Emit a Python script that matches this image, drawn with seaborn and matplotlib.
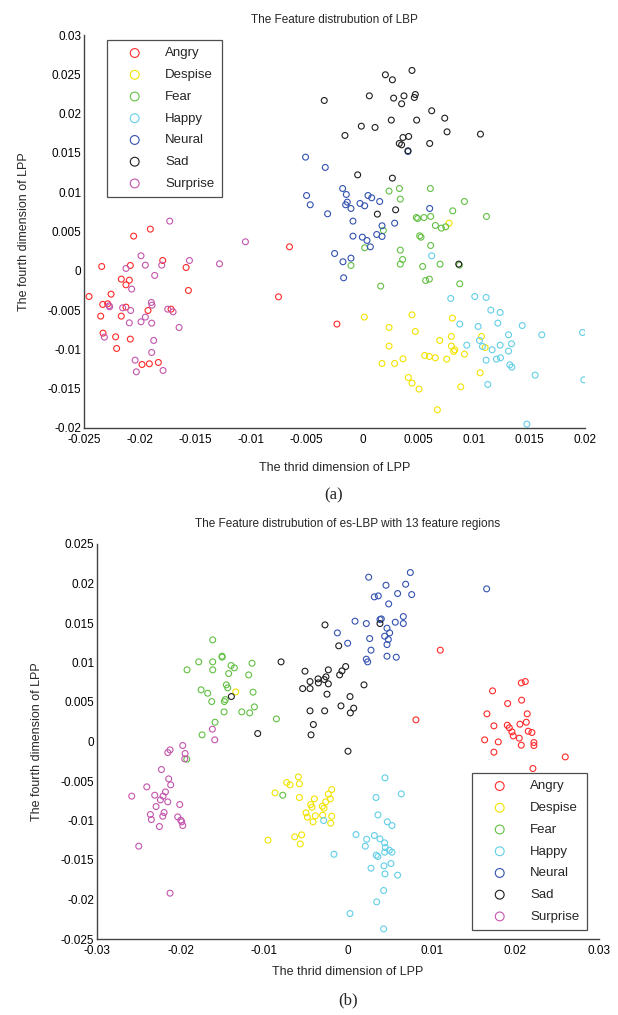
import matplotlib
matplotlib.use("Agg")
import matplotlib.pyplot as plt
import numpy as np
import pandas as pd
import seaborn as sns

sns.set_theme(style="white")
plt.rcParams.update(
    {
        "font.family": ["Liberation Sans", "DejaVu Sans"],
        "font.size": 8.5,
        "axes.unicode_minus": False,
    }
)

emotions = ["Angry", "Despise", "Fear", "Happy", "Neural", "Sad", "Surprise"]
colors = ["#ff2a2a", "#f2e400", "#62c043", "#62cfe6", "#3352b0", "#1e1e1e", "#c455ac"]

# ---- (a) LBP ----
lbp_angry_x = [-0.02455, -0.0235, -0.02332, -0.02329, -0.02341, -0.02287, -0.02257, -0.02216, -0.02207, -0.02165,
               -0.02165, -0.02123, -0.02123, -0.02093, -0.02084, -0.02084, -0.02054, -0.01979, -0.01913, -0.01904,
               -0.01925, -0.01832, -0.01793, -0.01718, -0.01583, -0.01562, -0.00654, -0.00753, -0.00228]
lbp_angry_y = [-0.00327, -0.00577, -0.00428, -0.00793, 0.00055, -0.0042, -0.00297, -0.0084, -0.00988, -0.00106,
               -0.00577, -0.00178, -0.00462, -0.00119, 0.00068, -0.00869, 0.00441, -0.01192, -0.01183, 0.0053,
               -0.00505, -0.01166, 0.00131, -0.00488, 0.00042, -0.0025, 0.00305, -0.00331, -0.00678]

lbp_despise_x = [0.00779, 0.00018, 0.00446, 0.0024, 0.00476, 0.00809, 0.0024, 0.00695, 0.008, 0.008, 0.00821,
                 0.0083, 0.00917, 0.0107, 0.01103, 0.0056, 0.00602, 0.00656, 0.00758, 0.00177, 0.0029, 0.00365,
                 0.00413, 0.00446, 0.00509, 0.01058, 0.00884, 0.00674]
lbp_despise_y = [0.00606, -0.00589, -0.0056, -0.00721, -0.00772, -0.00602, -0.00958, -0.00886, -0.00835, -0.00958,
                 -0.01026, -0.01005, -0.0106, -0.00835, -0.00976, -0.01077, -0.0109, -0.01107, -0.01124, -0.01179,
                 -0.01179, -0.0112, -0.01357, -0.01429, -0.01505, -0.01298, -0.01476, -0.01768]

lbp_fear_x = [0.0024, 0.00333, 0.00611, 0.00341, 0.00917, 0.00812, 0.01115, 0.00485, 0.00497, 0.00554, 0.00614,
              0.00656, 0.0071, 0.00749, 0.00189, 0.00021, 0.00515, 0.00527, 0.00341, 0.00362, 0.00341, 0.00614,
              0.00698, 0.00542, -0.00102, 0.00569, 0.00602, 0.00875, 0.00872, 0.00165]
lbp_fear_y = [0.01014, 0.01047, 0.01047, 0.00912, 0.00882, 0.00763, 0.00691, 0.00678, 0.00666, 0.00678, 0.00691,
              0.00577, 0.00543, 0.0056, 0.00513, 0.00293, 0.00445, 0.00428, 0.00263, 0.00144, 0.00085, 0.00322,
              0.00085, 0.00055, 0.00068, -0.00123, -0.00106, -0.00165, 0.00072, -0.00195]

lbp_happy_x = [0.00623, 0.00794, 0.0101, 0.01112, 0.01154, 0.01238, 0.00875, 0.0104, 0.01217, 0.01436, 0.01313,
               0.01612, 0.01978, 0.01052, 0.00938, 0.01079, 0.01166, 0.01238, 0.0134, 0.01313, 0.01112, 0.01205,
               0.01241, 0.01325, 0.01343, 0.01552, 0.0199, 0.01127, 0.01478]
lbp_happy_y = [0.00191, -0.00352, -0.00327, -0.00339, -0.005, -0.0053, -0.00678, -0.00708, -0.00666, -0.00696,
               -0.00814, -0.00814, -0.00785, -0.00886, -0.00946, -0.00963, -0.01005, -0.00946, -0.00929, -0.01022,
               -0.01137, -0.01124, -0.01107, -0.01196, -0.01226, -0.01327, -0.01387, -0.01446, -0.01951]

lbp_neural_x = [-0.0051, -0.00333, 0.0041, -0.00177, -0.00144, -0.00501, -0.00468, -0.00135, -0.0015, -0.00102,
                0.00051, 0.00084, -0.00021, 0.00021, 0.00156, -0.00312, -0.00084, 0.00177, 0.0029, 0.00605,
                0.00129, 0.00177, 0.0, -0.00084, 0.00042, 0.00072, -0.00249, -0.00174, -0.00102, -0.00168]
lbp_neural_y = [0.01446, 0.01315, 0.01518, 0.01047, 0.00971, 0.00958, 0.0084, 0.00874, 0.0084, 0.00793,
                0.00958, 0.00929, 0.00857, 0.00827, 0.00882, 0.00725, 0.00632, 0.00573, 0.00606, 0.00793,
                0.00462, 0.00437, 0.00428, 0.00441, 0.00386, 0.00305, 0.0022, 0.00115, 0.00161, -0.00089]

lbp_sad_x = [0.00446, 0.00207, 0.0027, -0.00342, 0.00063, 0.00281, 0.00374, 0.00476, 0.00467, 0.00353, 0.00623,
             0.0074, 0.00761, 0.0026, 0.00488, -0.00009, 0.00114, -0.00156, 0.00365, 0.00416, 0.00332, 0.00353,
             0.00605, 0.0041, -0.00042, 0.0027, 0.00135, 0.00299, 0.00866, 0.01061]
lbp_sad_y = [0.02549, 0.02494, 0.0243, 0.02167, 0.02226, 0.02197, 0.02226, 0.02243, 0.02205, 0.02125, 0.02036,
             0.01942, 0.01768, 0.01917, 0.01917, 0.0184, 0.01824, 0.01722, 0.01696, 0.01709, 0.0162, 0.01603,
             0.0162, 0.01527, 0.01221, 0.01179, 0.00721, 0.00776, 0.00085, 0.01739]

lbp_surprise_x = [-0.0173, -0.0105, -0.01283, -0.01553, -0.01802, -0.01949, -0.01988, -0.02123, -0.01865, -0.02072,
                  -0.02275, -0.0227, -0.02153, -0.02081, -0.01895, -0.01889, -0.01748, -0.017, -0.01949, -0.01988,
                  -0.01892, -0.02093, -0.01646, -0.02317, -0.01874, -0.01892, -0.02041, -0.0203, -0.0179]
lbp_surprise_y = [0.00632, 0.00369, 0.00089, 0.00131, 0.00072, 0.00072, 0.00191, 0.0003, -0.00059, -0.00233,
                  -0.00445, -0.00458, -0.00471, -0.00505, -0.00403, -0.00437, -0.00488, -0.00522, -0.00589, -0.00649,
                  -0.00666, -0.00662, -0.00721, -0.00844, -0.00886, -0.01039, -0.01137, -0.01285, -0.01268]

# ---- (b) es-LBP with 13 feature regions ----
es_angry_x = [0.00812, 0.01103, 0.02119, 0.02071, 0.01728, 0.02075, 0.01908, 0.01661, 0.02142, 0.01744, 0.01904,
              0.01928, 0.02055, 0.02131, 0.01959, 0.02154, 0.02198, 0.01975, 0.02047, 0.01633, 0.01796, 0.02071,
              0.02222, 0.02222, 0.01744, 0.02597, 0.0221]
es_angry_y = [0.00274, 0.01156, 0.00759, 0.00742, 0.00641, 0.00523, 0.00481, 0.0035, 0.0035, 0.00198, 0.00206,
              0.00173, 0.00219, 0.00244, 0.00122, 0.0013, 0.00114, 0.00071, 0.00042, 0.00021, -0.00005, -0.00047,
              -0.00013, -0.00051, -0.00135, -0.00195, -0.00342]

es_despise_x = [-0.01342, -0.00872, -0.00733, -0.00693, -0.00593, -0.00581, -0.00581, -0.00502, -0.00486, -0.00956,
                -0.00637, -0.00554, -0.0057, -0.00402, -0.00235, -0.00195, -0.00211, -0.00267, -0.00446, -0.0043,
                -0.00307, -0.00287, -0.0039, -0.00303, -0.00195, -0.00418, -0.00207]
es_despise_y = [0.00628, -0.0065, -0.00519, -0.00549, -0.00448, -0.00536, -0.00709, -0.00903, -0.00958, -0.01249,
                -0.01207, -0.01182, -0.01296, -0.00726, -0.00667, -0.00608, -0.00726, -0.00764, -0.00798, -0.00832,
                -0.00819, -0.00844, -0.00941, -0.00933, -0.00946, -0.01017, -0.01034]

es_fear_x = [-0.01617, -0.01505, -0.01505, -0.01784, -0.01617, -0.01924, -0.01617, -0.01398, -0.01358, -0.01147,
             -0.01426, -0.01187, -0.01454, -0.01438, -0.01756, -0.01677, -0.01135, -0.01629, -0.01466, -0.01478,
             -0.01119, -0.01481, -0.0127, -0.01175, -0.00856, -0.01589, -0.01744, -0.01927, -0.0078]
es_fear_y = [0.01286, 0.0108, 0.01068, 0.01008, 0.01008, 0.00907, 0.00907, 0.00962, 0.00932, 0.00991,
             0.0086, 0.00843, 0.00717, 0.00679, 0.00654, 0.00611, 0.00624, 0.00506, 0.00531, 0.00506,
             0.00438, 0.00375, 0.00375, 0.00362, 0.00286, 0.00244, 0.00084, -0.00224, -0.0068]

es_happy_x = [0.00442, 0.00637, 0.00335, 0.00358, 0.0047, 0.00526, 0.00096, 0.00315, 0.00382, 0.00223, 0.00207,
              0.00438, 0.00446, 0.00494, 0.00526, 0.00438, -0.00167, 0.00338, 0.00358, 0.0043, 0.00514, 0.00275,
              0.00442, 0.00593, 0.00426, 0.00343, 0.00024, 0.00426, -0.00291]
es_happy_y = [-0.0046, -0.00663, -0.00709, -0.00929, -0.01017, -0.01064, -0.01178, -0.0119, -0.01233, -0.01237,
              -0.01325, -0.01283, -0.01342, -0.01376, -0.01401, -0.01401, -0.01427, -0.01439, -0.01456, -0.01574,
              -0.01545, -0.01604, -0.01676, -0.01692, -0.01886, -0.0203, -0.02178, -0.02372, -0.01]

es_neural_x = [0.00247, 0.00745, 0.00454, 0.00689, 0.00593, 0.00761, 0.00315, 0.00362, 0.00486, 0.00084, 0.00219,
               0.00398, 0.00382, 0.00565, 0.00661, 0.00661, -0.00127, 0.00466, 0.00498, 0.00438, 0.00482, -0.00004,
               0.00259, 0.00466, 0.00275, 0.00466, 0.00577, 0.00219, 0.00235, 0.01657]
es_neural_y = [0.0208, 0.02139, 0.01978, 0.01991, 0.01873, 0.0186, 0.01831, 0.01843, 0.01742, 0.01523, 0.01493,
               0.01552, 0.01544, 0.0151, 0.01582, 0.01493, 0.01375, 0.01434, 0.01375, 0.01333, 0.01291, 0.01244,
               0.01303, 0.01227, 0.01156, 0.0108, 0.01067, 0.01042, 0.01008, 0.01932]

es_sad_x = [-0.00275, 0.00382, -0.00111, -0.008, -0.00514, -0.00235, -0.00028, -0.00072, -0.001, -0.00454, -0.00358,
            -0.00354, -0.00263, -0.00283, -0.00235, -0.00542, -0.00454, 0.00191, -0.00251, 0.00024, -0.00084,
            -0.00454, -0.00279, 0.00068, 0.00028, -0.00414, -0.00442, 0.0, -0.01394, -0.01079]
es_sad_y = [0.01476, 0.01493, 0.01211, 0.01008, 0.0089, 0.00907, 0.00949, 0.00894, 0.00843, 0.00759, 0.00793,
            0.00742, 0.00818, 0.00784, 0.0073, 0.0067, 0.0067, 0.00717, 0.00599, 0.00569, 0.00451,
            0.00388, 0.00388, 0.00422, 0.00362, 0.00215, 0.00084, -0.00123, 0.00569, 0.00101]

es_surprise_x = [-0.01621, -0.01593, -0.01975, -0.02127, -0.02154, -0.01947, -0.01951, -0.0223, -0.02143, -0.02119,
                 -0.02405, -0.02182, -0.02585, -0.0231, -0.0221, -0.02242, -0.02154, -0.02294, -0.02011, -0.02198,
                 -0.02362, -0.02214, -0.0235, -0.02035, -0.01999, -0.01987, -0.01975, -0.02254, -0.02501, -0.02127]
es_surprise_y = [0.00156, 0.00021, -0.00051, -0.00106, -0.0014, -0.00152, -0.0022, -0.00355, -0.00473, -0.00549,
                 -0.00574, -0.00638, -0.00692, -0.0068, -0.00692, -0.00739, -0.00764, -0.00823, -0.00798, -0.00899,
                 -0.00924, -0.00946, -0.00988, -0.00954, -0.00996, -0.01017, -0.01064, -0.01076, -0.01325, -0.0192]

top_xticks = [-0.025, -0.02, -0.015, -0.01, -0.005, 0, 0.005, 0.01, 0.015, 0.02]
top_xlabels = ["-0.025", "-0.02", "-0.015", "-0.01", "-0.005", "0", "0.005", "0.01", "0.015", "0.02"]
top_yticks = [-0.02, -0.015, -0.01, -0.005, 0, 0.005, 0.01, 0.015, 0.02, 0.025, 0.03]
top_ylabels = ["-0.02", "-0.015", "-0.01", "-0.005", "0", "0.005", "0.01", "0.015", "0.02", "0.025", "0.03"]
bot_xticks = [-0.03, -0.02, -0.01, 0, 0.01, 0.02, 0.03]
bot_xlabels = ["-0.03", "-0.02", "-0.01", "0", "0.01", "0.02", "0.03"]
bot_yticks = [-0.025, -0.02, -0.015, -0.01, -0.005, 0, 0.005, 0.01, 0.015, 0.02, 0.025]
bot_ylabels = ["-0.025", "-0.02", "-0.015", "-0.01", "-0.005", "0", "0.005", "0.01", "0.015", "0.02", "0.025"]


def make_frame(xs, ys):
    parts = []
    for name, x, y in zip(emotions, xs, ys):
        parts.append(pd.DataFrame({"x": x, "y": y, "emotion": name}))
    return pd.concat(parts, ignore_index=True)


lbp = make_frame(
    [lbp_angry_x, lbp_despise_x, lbp_fear_x, lbp_happy_x, lbp_neural_x, lbp_sad_x, lbp_surprise_x],
    [lbp_angry_y, lbp_despise_y, lbp_fear_y, lbp_happy_y, lbp_neural_y, lbp_sad_y, lbp_surprise_y],
)
es = make_frame(
    [es_angry_x, es_despise_x, es_fear_x, es_happy_x, es_neural_x, es_sad_x, es_surprise_x],
    [es_angry_y, es_despise_y, es_fear_y, es_happy_y, es_neural_y, es_sad_y, es_surprise_y],
)


def draw_panel(ax, df, title, xlim, ylim, xt, xl, yt, yl, legend_anchor, title_pad, xlabel_pad):
    for name, c in zip(emotions, colors):
        sns.scatterplot(
            data=df[df["emotion"] == name],
            x="x",
            y="y",
            marker="o",
            s=18,
            facecolors="none",
            edgecolor=c,
            linewidth=0.8,
            color=c,
            label=name,
            ax=ax,
        )
    ax.set_xlim(xlim)
    ax.set_ylim(ylim)
    ax.set_xticks(xt)
    ax.set_xticklabels(xl)
    ax.set_yticks(yt)
    ax.set_yticklabels(yl)
    ax.tick_params(direction="in", length=3.5, width=0.8, colors="#333333", labelcolor="black",
                   labelsize=8.5, pad=2)
    ax.tick_params(axis="x", pad=4.5)
    for side in ["top", "right"]:
        ax.spines[side].set_visible(False)
    for side in ["left", "bottom"]:
        ax.spines[side].set_color("#444444")
        ax.spines[side].set_linewidth(1.0)
    ax.set_title(title, fontsize=8.5, pad=title_pad)
    ax.set_xlabel("The thrid dimension of LPP", fontsize=9, labelpad=xlabel_pad)
    ax.set_ylabel("The fourth dimension of LPP", fontsize=9, labelpad=13)
    leg = ax.legend(
        loc="upper left",
        bbox_to_anchor=legend_anchor,
        bbox_transform=fig.transFigure,
        frameon=True,
        fancybox=False,
        edgecolor="#222222",
        fontsize=9.5,
        markerscale=1.5,
        labelspacing=0.72,
        handlelength=3.1,
        handletextpad=0.75,
        borderpad=0.55,
        borderaxespad=0,
    )
    leg.get_frame().set_linewidth(0.9)


fig = plt.figure(figsize=(6.18, 10.15), dpi=100)
ax1 = fig.add_axes([84 / 618, 1 - 428 / 1015, (585 - 84) / 618, (428 - 35) / 1015])
ax2 = fig.add_axes([97 / 618, 1 - 939 / 1015, (599 - 97) / 618, (939 - 544) / 1015])

draw_panel(ax1, lbp, "The Feature distrubution of LBP", (-0.025, 0.02), (-0.02, 0.03),
           top_xticks, top_xlabels, top_yticks, top_ylabels, (107 / 618, 1 - 40 / 1015), 9, 11)
draw_panel(ax2, es, "The Feature distrubution of es-LBP with 13 feature regions", (-0.03, 0.03), (-0.025, 0.025),
           bot_xticks, bot_xlabels, bot_yticks, bot_ylabels, (472 / 618, 1 - 773 / 1015), 12, 6.5)

fig.text(334 / 618, 1 - 495 / 1015, "(a)", ha="center", va="center", fontsize=12,
         family=["Liberation Serif", "DejaVu Serif"])
fig.text(348 / 618, 1 - 1000 / 1015, "(b)", ha="center", va="center", fontsize=12,
         family=["Liberation Serif", "DejaVu Serif"])

fig.savefig("out.png", dpi=100)
